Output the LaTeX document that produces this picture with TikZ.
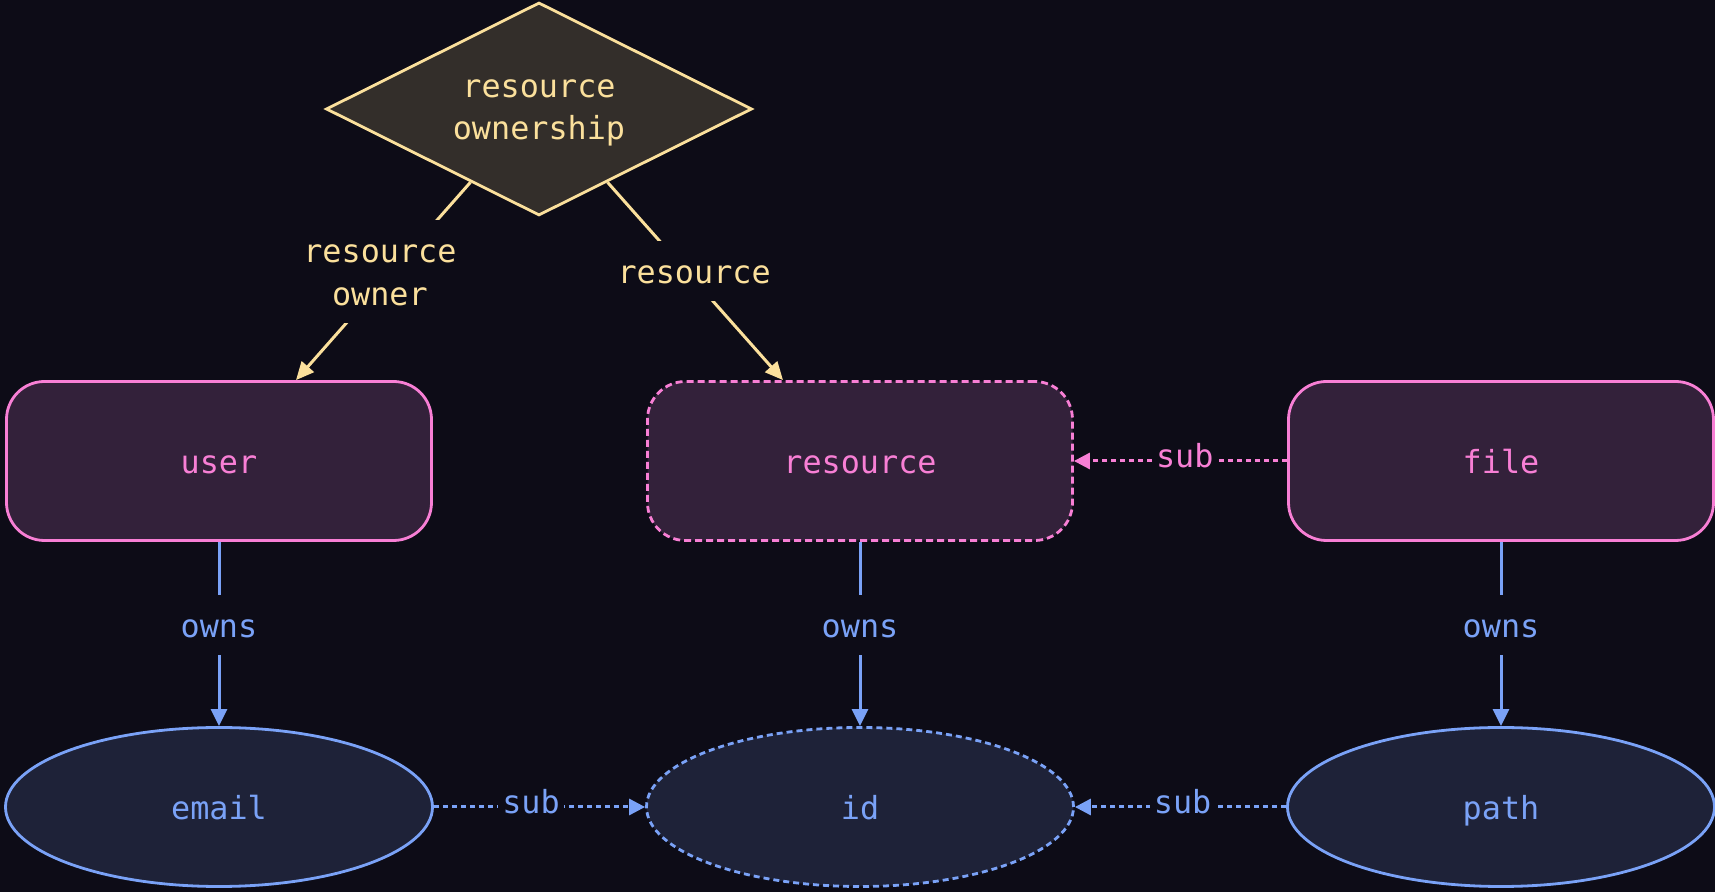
\documentclass[tikz,border=0pt]{standalone}
\usepackage{fontspec}
\setmonofont{DejaVu Sans Mono}
\usetikzlibrary{shapes.geometric,arrows.meta,calc}

\definecolor{canvas}{HTML}{0D0C17}
\definecolor{goldline}{HTML}{FBE09C}
\definecolor{goldfill}{HTML}{332E2A}
\definecolor{pinkline}{HTML}{F87FD5}
\definecolor{pinkfill}{HTML}{33213A}
\definecolor{blueline}{HTML}{7AA2F7}
\definecolor{bluefill}{HTML}{1E2238}

% a strut that lowers the first line of a two-line text
\newcommand{\toplift}{\rule{0pt}{12.7pt}}

\begin{document}
\begin{tikzpicture}[x=0.5pt,y=-0.5pt,
  every node/.style={font=\ttfamily\fontsize{15.9}{21.3}\selectfont},
  relation/.style={diamond, aspect=2, draw=goldline, fill=goldfill, text=goldline,
    line width=1.4pt, minimum width=213pt, minimum height=106.5pt,
    inner sep=0pt, align=center},
  entity/.style={rectangle, rounded corners=19pt, draw=pinkline, fill=pinkfill,
    text=pinkline, line width=1.4pt, minimum width=212.5pt, minimum height=79.5pt,
    text height=13.7pt, text depth=1.3pt},
  abstractentity/.style={entity, dash pattern=on 3.5pt off 2pt},
  attribute/.style={ellipse, draw=blueline, fill=bluefill, text=blueline,
    line width=1.4pt, minimum width=213.5pt, minimum height=79.5pt,
    text height=13.7pt, text depth=1.3pt},
  abstractattribute/.style={attribute, dash pattern=on 3pt off 2pt},
  lbl/.style={fill=canvas, inner xsep=2pt, inner ysep=7.5pt,
    text height=13.7pt, text depth=1.3pt},
  lbltwo/.style={fill=canvas, inner xsep=2pt, inner ysep=8.5pt, align=center},
  roleline/.style={draw=goldline, line width=1.5pt, -{Triangle[length=9pt,width=8pt]}},
  ownsline/.style={draw=blueline, line width=1.5pt, -{Triangle[length=8.5pt,width=8pt]}},
  subpink/.style={draw=pinkline, line width=1.5pt, dash pattern=on 2.5pt off 2pt,
    -{Triangle[length=8pt,width=8pt]}},
  subblue/.style={draw=blueline, line width=1.5pt, dash pattern=on 2.5pt off 2pt,
    -{Triangle[length=8pt,width=8pt]}},
]
% background and page size
\fill[canvas] (0,0) rectangle (1715,892);
\useasboundingbox (0,0) rectangle (1715,892);

% relationship
\node[relation] (own) at (539,109) {\toplift resource\\ownership};

% entities
\node[entity] (user) at (219,461) {user};
\node[abstractentity] (resource) at (860,461) {resource};
\node[entity] (file) at (1501,461) {file};

% attributes
\node[attribute] (email) at (219,807) {email};
\node[abstractattribute] (id) at (860,807) {id};
\node[attribute] (path) at (1501,807) {path};

% roles of the relationship
\draw[roleline] ($(own.south)!0.32!(own.west)$)
  -- node[lbltwo, text=goldline, pos=0.45, xshift=-6pt] {\toplift resource\\owner}
  ($(user.north west)!0.68!(user.north east)$);
\draw[roleline] ($(own.south)!0.32!(own.east)$)
  -- node[lbl, text=goldline, pos=0.45, xshift=3.8pt] {resource}
  ($(resource.north west)!0.32!(resource.north east)$);

% ownership of attributes
\draw[ownsline] (user.south) -- node[lbl, text=blueline, pos=0.45] {owns} (email.north);
\draw[ownsline] (resource.south) -- node[lbl, text=blueline, pos=0.45] {owns} (id.north);
\draw[ownsline] (file.south) -- node[lbl, text=blueline, pos=0.45] {owns} (path.north);

% subtyping
\draw[subpink] (file.west) -- node[lbl, text=pinkline, pos=0.48, yshift=3.1pt] {sub} (resource.east);
\draw[subblue] (email.east) -- node[lbl, text=blueline, pos=0.46, yshift=3.1pt] {sub} (id.west);
\draw[subblue] (path.west) -- node[lbl, text=blueline, pos=0.49, yshift=3.1pt] {sub} (id.east);
\end{tikzpicture}
\end{document}
